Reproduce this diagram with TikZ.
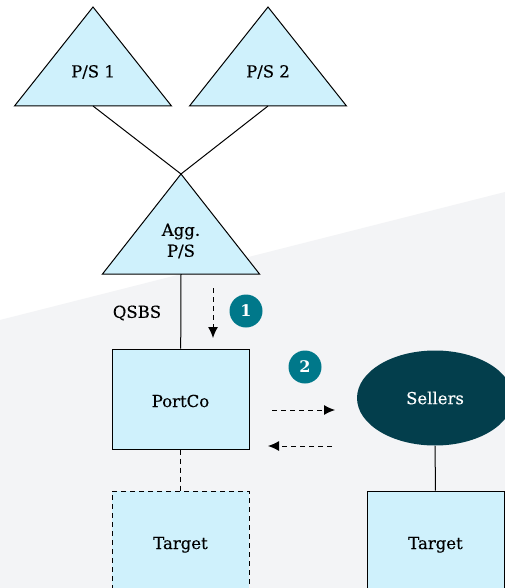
\documentclass[tikz,border=0pt]{standalone}
\usepackage{fontspec}
\setmainfont{DejaVu Serif}
\newfontfamily\labelfont{DejaVu Serif}[FakeBold=0.35]
\usetikzlibrary{shapes.geometric,arrows.meta}
\definecolor{paleblue}{HTML}{CFF1FC}
\definecolor{badgeteal}{HTML}{00788A}
\definecolor{darkteal}{HTML}{033E4C}
\definecolor{bggray}{HTML}{F3F4F6}

\begin{document}
\begin{tikzpicture}[x=1pt,y=-1pt,line width=1pt,
    lbl/.style={font=\labelfont\fontsize{16.5}{21}\selectfont,align=center},
    tri/.style={draw,fill=paleblue},
    box/.style={draw,fill=paleblue,minimum width=137pt,minimum height=100pt,
        text height=16pt,text depth=0pt,lbl},
    badge/.style={circle,fill=badgeteal,text=white,minimum size=33pt,inner sep=0pt,
        font=\bfseries\fontsize{16}{18}\selectfont},
    dashline/.style={dash pattern=on 5pt off 4pt},
    flow/.style={dash pattern=on 5pt off 4pt,-{Latex[length=11pt,width=10pt]}}
]
\clip (0,0) rectangle (505,588);
\fill[white] (0,0) rectangle (505,588);
\fill[bggray] (0,320) -- (505,192) -- (505,588) -- (0,588) -- cycle;

% partnerships
\draw[tri] (93,7) -- (171.5,106) -- (14.5,106) -- cycle;
\draw[tri] (268,7) -- (346.5,106) -- (189.5,106) -- cycle;
\draw[tri] (181,174) -- (259.5,274) -- (102.5,274) -- cycle;
\coordinate (ps1base) at (93,106);
\coordinate (ps2base) at (268,106);
\coordinate (aggtop) at (181,174);
\coordinate (aggbase) at (181,274);
\node[lbl] (ps1) at (93,72) {P/S 1};
\node[lbl] (ps2) at (268,72) {P/S 2};
\node[lbl] (agg) at (181,241) {Agg.\\P/S};

% entities
\node[box] (portco) at (180.5,399) {PortCo};
\node[box,dashline] (target1) at (180.5,541) {Target};
\node[box] (target2) at (435.5,541) {Target};
\node[ellipse,fill=darkteal,text=white,minimum width=156pt,minimum height=95pt,lbl]
    (sellers) at (435,398) {Sellers};

\draw (ps1base) -- (aggtop);
\draw (ps2base) -- (aggtop);
\draw (aggbase) -- (portco);
\draw[dashline] (portco) -- (target1);
\draw (sellers) -- (target2);

\node[lbl] (qsbs) at (137,313) {QSBS};

% steps
\coordinate (s1from) at (213,288);
\coordinate (s1to) at (213,338);
\coordinate (s2afrom) at (272,410);
\coordinate (s2ato) at (335,410);
\coordinate (s2bfrom) at (332,446);
\coordinate (s2bto) at (268,446);
\draw[flow] (s1from) -- (s1to);
\draw[flow] (s2afrom) -- (s2ato);
\draw[flow] (s2bfrom) -- (s2bto);
\node[badge] (b1) at (246,311) {1};
\node[badge] (b2) at (305,367) {2};
\end{tikzpicture}
\end{document}
